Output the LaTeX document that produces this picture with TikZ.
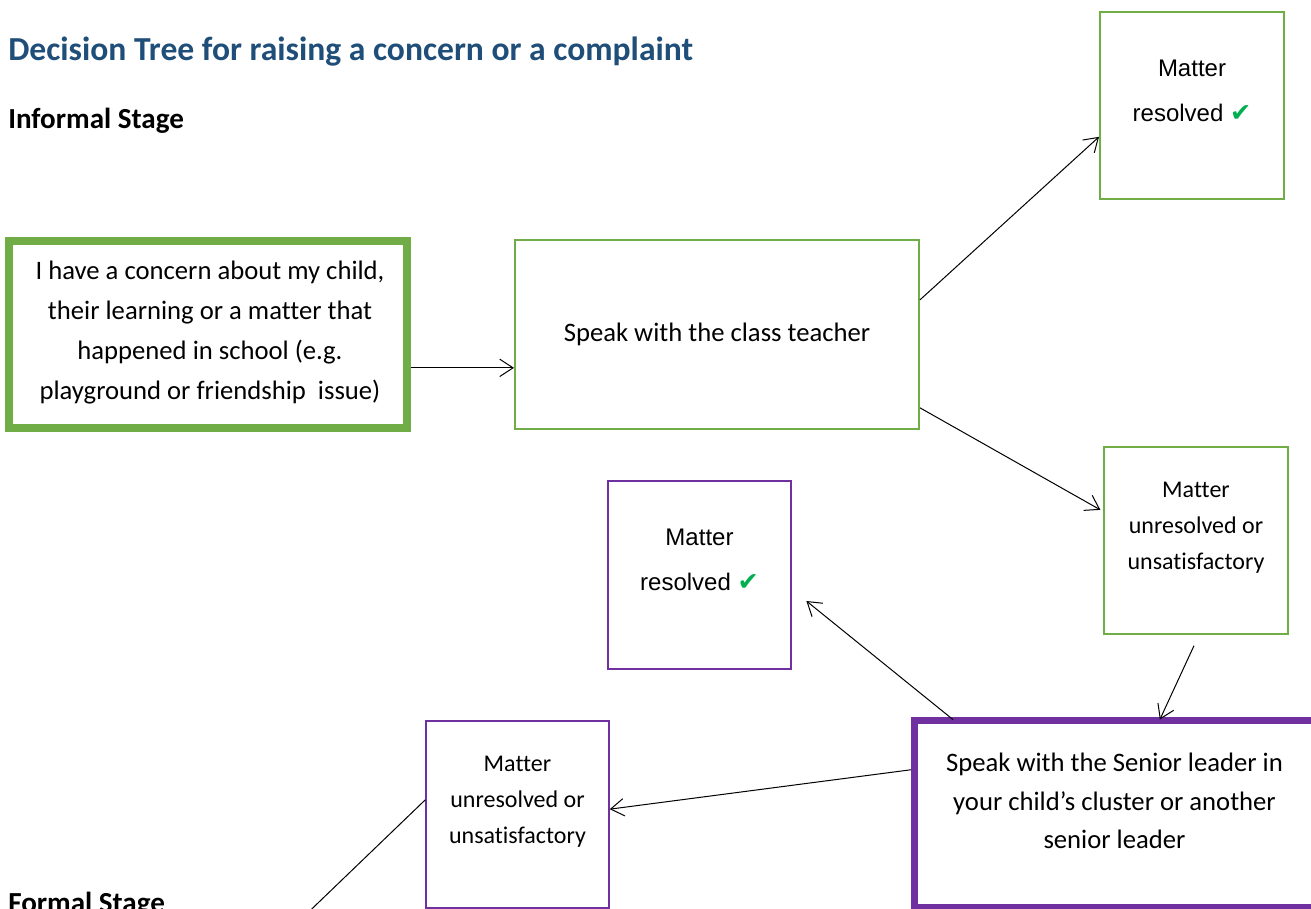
\documentclass[tikz,border=0pt]{standalone}
\usepackage{fontspec}
\setmainfont{Carlito}[Ligatures=NoCommon]
\newfontfamily\arialfont{Liberation Sans}
\newfontfamily\symbolfont{DejaVu Sans}
\usetikzlibrary{arrows.meta}
\usetikzlibrary{positioning}
\usetikzlibrary{calc}

\definecolor{boxgreen}{HTML}{70AD47}
\definecolor{boxpurple}{HTML}{7030A0}
\definecolor{titleblue}{HTML}{1F4E79}
\definecolor{tickgreen}{HTML}{00B050}

\newcommand{\greentick}{{\symbolfont\fontsize{19}{19}\selectfont\textcolor{tickgreen}{✔}}}

\tikzset{
  thickbox/.style={draw=#1, line width=6pt, inner sep=0pt},
  thinbox/.style={draw=#1, line width=1.5pt, inner sep=0pt},
  link/.style={line width=0.75pt, -{Straight Barb[length=10pt,width=13pt]}},
  plainlink/.style={line width=0.75pt},
  bodytext/.style={align=center, inner sep=0pt, font=\fontsize{20}{30}\selectfont},
  smalltext/.style={align=center, inner sep=0pt, font=\fontsize{18}{27}\selectfont},
  arialtext/.style={align=center, inner sep=0pt, font=\arialfont\fontsize{18}{34}\selectfont},
  heading/.style={anchor=base west, inner sep=0pt, font=\bfseries\fontsize{#1}{#1}\selectfont},
}

\begin{document}
\begin{tikzpicture}[x=0.75pt,y=-0.75pt]
\clip (0,0) rectangle (1311,908);
\fill[white] (0,0) rectangle (1311,908);

% headings
\node[heading=25.2, text=titleblue] (title) at (8,60) {Decision Tree for raising a concern or a complaint};
\node[heading=21.8] (informal) at (8,128) {Informal Stage};
\node[heading=21.8] (formal) at (8,912) {Formal Stage};

% boxes
\node[thickbox=boxgreen, minimum width=298.5pt, minimum height=140.25pt] (start) at (208,334.5) {};
\node[thinbox=boxgreen, minimum width=303pt, minimum height=141.75pt] (teach) at (717,334.5) {};
\node[thinbox=boxgreen, minimum width=138pt, minimum height=140.25pt] (res1) at (1192,105.5) {};
\node[thinbox=boxgreen, minimum width=138pt, minimum height=140.25pt] (unres1) at (1196,540.5) {};
\node[thinbox=boxpurple, line width=1.1pt, minimum width=137.25pt, minimum height=141pt] (res2) at (699.5,575) {};
\node[thickbox=boxpurple, line width=5.25pt, minimum width=300pt, minimum height=140pt] (senior) at (1114.5,813.75) {};
\node[thinbox=boxpurple, line width=1.1pt, minimum width=137.25pt, minimum height=140.25pt] (unres2) at (517.5,814.5) {};

% texts
\node[bodytext] (starttxt) at (210,332.5) {I have a concern about my child,\\ their learning or a matter that\\ happened in school (e.g.\\ playground or friendship\ \ issue)};
\node[bodytext] (teachtxt) at (717,334) {Speak with the class teacher};
\node[arialtext] (res1txt) at (1192,91) {Matter\\ resolved \greentick};
\node[smalltext] (unres1txt) at (1196,528) {Matter\\ unresolved or\\ unsatisfactory};
\node[arialtext] (res2txt) at (699.5,560) {Matter\\ resolved \greentick};
\node[bodytext, font=\fontsize{20}{29}\selectfont] (seniortxt) at (1114.5,801) {Speak with the Senior leader in\\ your child’s cluster or another\\ senior leader};
\node[smalltext] (unres2txt) at (517.5,802) {Matter\\ unresolved or\\ unsatisfactory};

% connectors
\coordinate (offpage) at (280,939.5);
\draw[link] ([yshift=-25pt]start.east) -- ([yshift=-25pt]teach.west);
\draw[link] ([yshift=26pt]teach.east) -- ([yshift=-23.5pt]res1.west);
\draw[link] ([yshift=-55pt]teach.east) -- ([xshift=-2pt,yshift=23pt]unres1.west);
\draw[link] ([xshift=-1.5pt,yshift=-8pt]unres1.south) -- ([xshift=34pt,yshift=-2pt]senior.north);
\draw[link] ([xshift=31.5pt,yshift=-2pt]senior.north west) -- ([xshift=11pt,yshift=-19.5pt]res2.east);
\draw[link] ([yshift=33pt]senior.west) -- ([yshift=4pt]unres2.east);
\draw[plainlink] ([yshift=11pt]unres2.west) -- (offpage);
\end{tikzpicture}
\end{document}
